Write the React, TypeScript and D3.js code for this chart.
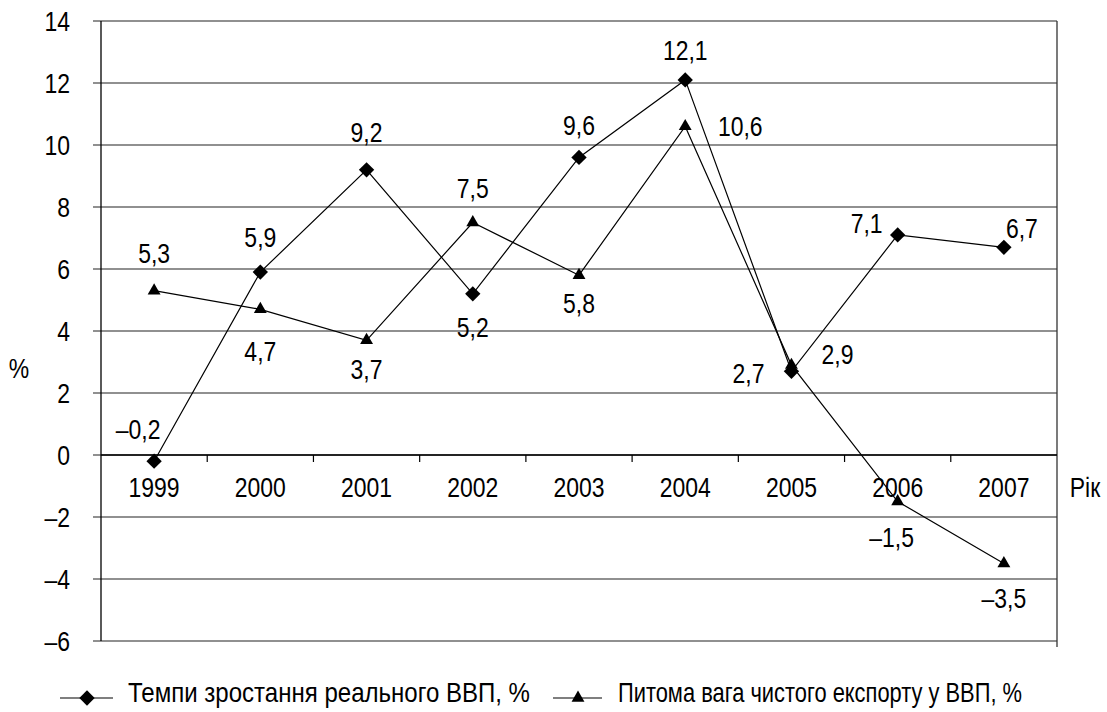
import React from 'react';
import * as d3 from 'd3';

const years = ['1999', '2000', '2001', '2002', '2003', '2004', '2005', '2006', '2007'];
const gdpGrowth = [-0.2, 5.9, 9.2, 5.2, 9.6, 12.1, 2.7, 7.1, 6.7];
const netExportShare = [5.3, 4.7, 3.7, 7.5, 5.8, 10.6, 2.9, -1.5, -3.5];
const yTicks = [-6, -4, -2, 0, 2, 4, 6, 8, 10, 12, 14];
const seriesNames = ['Темпи зростання реального ВВП, %', 'Питома вага чистого експорту у ВВП, %'];

// label offsets (dx, dy) relative to each marker
const gdpLabelPos: [number, number][] = [
  [-16, -32], [0, -35], [0, -38], [0, 33], [0, -32], [0, -30], [-43, 2], [-31, -12], [18, -19],
];
const exportLabelPos: [number, number][] = [
  [0, -38], [0, 42], [0, 29], [0, -34], [0, 28], [55, 0], [46, -11], [-6, 36], [0, 35],
];

const W = 1107;
const H = 712;
const margin = { top: 21, right: 50, bottom: 71, left: 101 };
const font = '"Liberation Sans", Arial, sans-serif';
const fs = 28;
const squeeze = 0.82; // narrow face look

const fmt = (v: number) => (v < 0 ? '\u2013' : '') + Math.abs(v).toFixed(1).replace('.', ',');

// narrow text: Liberation Sans squeezed horizontally
const T = ({ x, y, anchor = 'middle', children, len }: { x: number; y: number; anchor?: string; children: React.ReactNode; len?: number }) => (
  <text
    transform={`translate(${x},${y}) scale(${len ? 1 : squeeze},1)`}
    dy="0.35em"
    textAnchor={anchor}
    fontSize={fs}
    fill="#000"
    textLength={len}
    lengthAdjust={len ? 'spacingAndGlyphs' : undefined}
  >
    {children}
  </text>
);

const Diamond = ({ x, y }: { x: number; y: number }) => (
  <path d={d3.symbol(d3.symbolDiamond2, 150)() || ''} transform={`translate(${x},${y})`} fill="#000" />
);
const Triangle = ({ x, y }: { x: number; y: number }) => (
  <path d={d3.symbol(d3.symbolTriangle, 72)() || ''} transform={`translate(${x},${y})`} fill="#000" />
);

export default function App() {
  const x = d3.scaleBand<string>().domain(years).range([margin.left, W - margin.right]).padding(0);
  const y = d3.scaleLinear().domain([-6, 14]).range([H - margin.bottom, margin.top]);
  const cx = (d: string) => (x(d) as number) + x.bandwidth() / 2;

  const line = d3.line<[string, number]>().x((d) => cx(d[0])).y((d) => y(d[1]));
  const gdpPts = years.map((yr, i) => [yr, gdpGrowth[i]] as [string, number]);
  const expPts = years.map((yr, i) => [yr, netExportShare[i]] as [string, number]);

  const left = margin.left;
  const right = W - margin.right;
  const y0 = y(0);

  return (
    <svg width={W} height={H} style={{ position: 'absolute', left: 0, top: 0, background: '#fff' }} fontFamily={font}>
      {/* grid */}
      {yTicks.map((t) => (
        <g key={t}>
          <line x1={left - 8} x2={right} y1={y(t)} y2={y(t)} stroke="#222" strokeWidth={1.2} />
          <T x={70} y={y(t)} anchor="end">{t < 0 ? '\u2013' + Math.abs(t) : t}</T>
        </g>
      ))}
      <line x1={left} x2={left} y1={margin.top} y2={H - margin.bottom} stroke="#000" strokeWidth={1.3} />
      <line x1={right} x2={right} y1={margin.top} y2={H - margin.bottom + 6} stroke="#333" strokeWidth={1.3} />
      {/* category axis on zero line */}
      <line x1={left} x2={right} y1={y0} y2={y0} stroke="#000" strokeWidth={1.3} />
      {years.slice(1).map((yr) => (
        <line key={yr} x1={x(yr)} x2={x(yr)} y1={y0} y2={y0 + 7} stroke="#000" strokeWidth={1.2} />
      ))}
      {years.map((yr) => (
        <T key={yr} x={cx(yr)} y={y0 + 32}>{yr}</T>
      ))}
      <T x={1085} y={y0 + 32}>Рік</T>
      <T x={19} y={368}>%</T>

      {/* series */}
      <path d={line(gdpPts) || ''} fill="none" stroke="#000" strokeWidth={1.2} />
      <path d={line(expPts) || ''} fill="none" stroke="#000" strokeWidth={1.2} />
      {gdpPts.map((p) => <Diamond key={'d' + p[0]} x={cx(p[0])} y={y(p[1])} />)}
      {expPts.map((p) => <Triangle key={'t' + p[0]} x={cx(p[0])} y={y(p[1])} />)}
      {gdpPts.map((p, i) => (
        <T key={'gl' + p[0]} x={cx(p[0]) + gdpLabelPos[i][0]} y={y(p[1]) + gdpLabelPos[i][1]}>{fmt(p[1])}</T>
      ))}
      {expPts.map((p, i) => (
        <T key={'el' + p[0]} x={cx(p[0]) + exportLabelPos[i][0]} y={y(p[1]) + exportLabelPos[i][1]}>{fmt(p[1])}</T>
      ))}

      {/* legend */}
      <g>
        <line x1={60} x2={113} y1={698} y2={698} stroke="#000" strokeWidth={1.2} />
        <Diamond x={87} y={698} />
        <T x={128} y={692} anchor="start" len={402}>{seriesNames[0]}</T>
        <line x1={553} x2={602} y1={698} y2={698} stroke="#000" strokeWidth={1.2} />
        <Triangle x={578} y={698} />
        <T x={618} y={692} anchor="start" len={404}>{seriesNames[1]}</T>
      </g>
    </svg>
  );
}
